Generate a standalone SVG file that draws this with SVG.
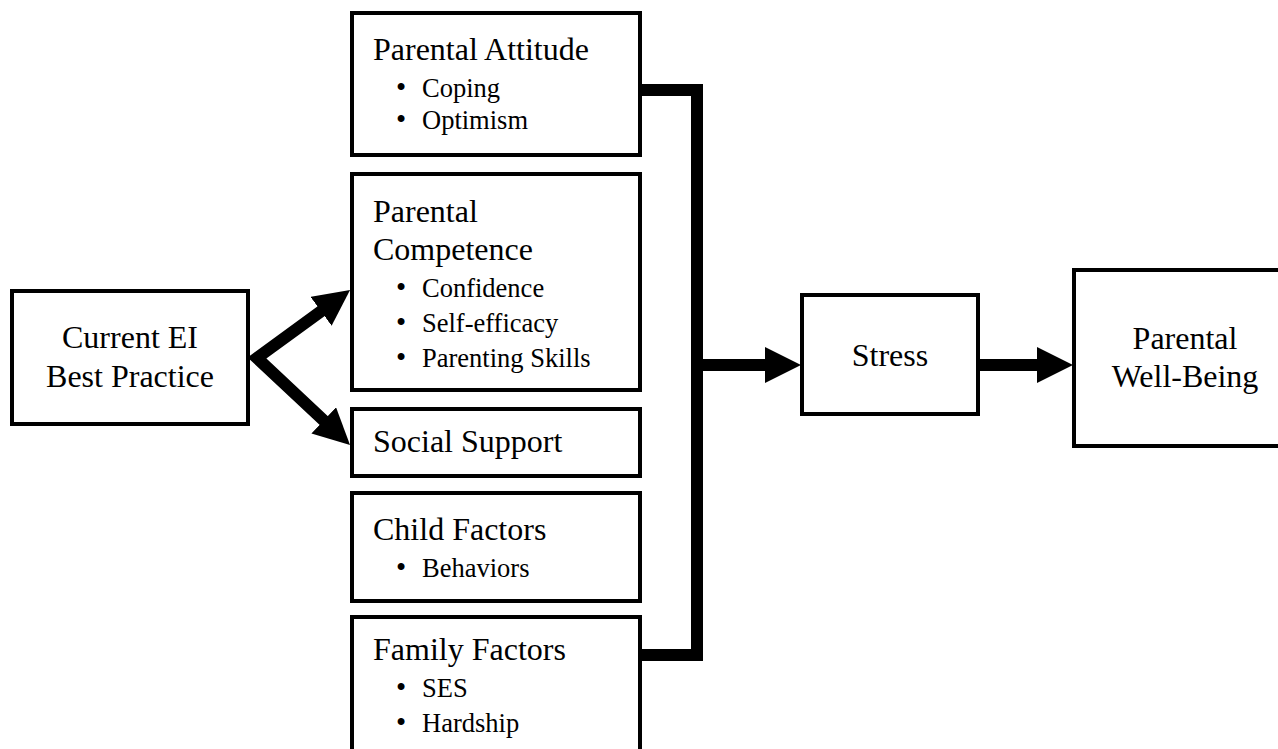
<svg xmlns="http://www.w3.org/2000/svg" width="1278" height="749" viewBox="0 0 1278 749">
<style>
.box{fill:#fff;stroke:#000;stroke-width:4}
.h{font-family:"Liberation Serif","Times New Roman",serif;font-size:32px;fill:#000}
.b{font-family:"Liberation Serif","Times New Roman",serif;font-size:26.5px;fill:#000}
.d{font-family:"Liberation Serif","Times New Roman",serif;font-size:29px}
.c{text-anchor:middle}
.con{fill:none;stroke:#000;stroke-width:12;stroke-linejoin:miter}
</style>
<defs>
<marker id="ah" markerUnits="userSpaceOnUse" markerWidth="36" markerHeight="36" viewBox="0 0 36 36" refX="2" refY="18" orient="auto-start-reverse">
<path d="M0,0 L36,18 L0,36 Z" fill="#000"/>
</marker>
</defs>
<rect width="1278" height="749" fill="#fff"/>
<g id="connectors">
<path class="con" d="M322.6,310.1 L257,358 L325.2,421.8" marker-start="url(#ah)" marker-end="url(#ah)"/>
<path class="con" d="M640,90 H697 V655 H640"/>
<path class="con" d="M697,365 H767" marker-end="url(#ah)"/>
<path class="con" d="M978,365 H1039" marker-end="url(#ah)"/>
</g>
<g id="current-ei">
<rect class="box" x="12" y="291" width="236" height="133"/>
<text class="h c" x="130" y="348">Current EI</text>
<text class="h c" x="130" y="387">Best Practice</text>
</g>
<g id="parental-attitude">
<rect class="box" x="352" y="13" width="288" height="142"/>
<text class="h" x="373" y="60">Parental Attitude</text>
<text class="b" x="396" y="97"><tspan class="d">•</tspan><tspan x="422">Coping</tspan></text>
<text class="b" x="396" y="129"><tspan class="d">•</tspan><tspan x="422">Optimism</tspan></text>
</g>
<g id="parental-competence">
<rect class="box" x="352" y="174" width="288" height="216"/>
<text class="h" x="373" y="222">Parental</text>
<text class="h" x="373" y="260">Competence</text>
<text class="b" x="396" y="297"><tspan class="d">•</tspan><tspan x="422">Confidence</tspan></text>
<text class="b" x="396" y="332"><tspan class="d">•</tspan><tspan x="422">Self-efficacy</tspan></text>
<text class="b" x="396" y="367"><tspan class="d">•</tspan><tspan x="422">Parenting Skills</tspan></text>
</g>
<g id="social-support">
<rect class="box" x="352" y="409" width="288" height="67"/>
<text class="h" x="373" y="452">Social Support</text>
</g>
<g id="child-factors">
<rect class="box" x="352" y="493" width="288" height="108"/>
<text class="h" x="373" y="540">Child Factors</text>
<text class="b" x="396" y="577"><tspan class="d">•</tspan><tspan x="422">Behaviors</tspan></text>
</g>
<g id="family-factors">
<rect class="box" x="352" y="617" width="288" height="160"/>
<text class="h" x="373" y="660">Family Factors</text>
<text class="b" x="396" y="697"><tspan class="d">•</tspan><tspan x="422">SES</tspan></text>
<text class="b" x="396" y="732"><tspan class="d">•</tspan><tspan x="422">Hardship</tspan></text>
</g>
<g id="stress">
<rect class="box" x="802" y="295" width="176" height="119"/>
<text class="h c" x="890" y="366">Stress</text>
</g>
<g id="parental-well-being">
<rect class="box" x="1074" y="270" width="220" height="176"/>
<text class="h c" x="1185" y="349">Parental</text>
<text class="h c" x="1185" y="387">Well-Being</text>
</g>
</svg>
